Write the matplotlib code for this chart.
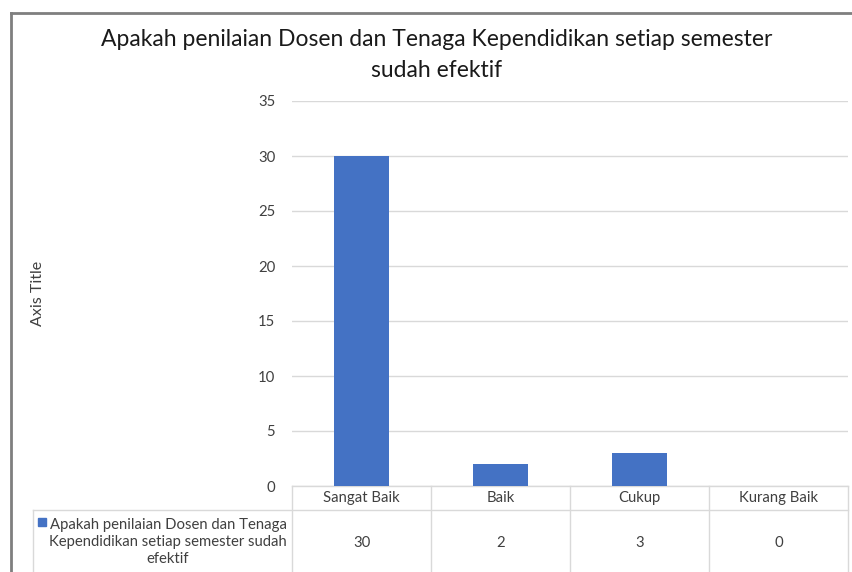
import numpy as np
import matplotlib.pyplot as plt
from matplotlib.lines import Line2D
import matplotlib.transforms as mtransforms

categories = ["Sangat Baik", "Baik", "Cukup", "Kurang Baik"]
values = [30, 2, 3, 0]
series_name = "Apakah penilaian Dosen dan Tenaga\nKependidikan setiap semester sudah\nefektif"
title = "Apakah penilaian Dosen dan Tenaga Kependidikan setiap semester\nsudah efektif"
y_ticks = [0, 5, 10, 15, 20, 25, 30, 35]

bar_color = "#4472C4"
grid_color = "#D9D9D9"
text_color = "#404040"
fs = 10.7

plt.rcParams['font.family'] = ['Lato', 'DejaVu Sans']

W, H = 853, 572
fig = plt.figure(figsize=(W / 100, H / 100), dpi=100)

# plot area in pixels: x 292..848, y 101..486
ax = fig.add_axes([292 / W, 1 - 486 / H, 556 / W, 385 / H])
x = np.arange(len(categories))
ax.bar(x, values, width=0.4, color=bar_color, zorder=3)
ax.set_xlim(-0.5, len(categories) - 0.5)
ax.set_ylim(0, 35)
ax.set_yticks(y_ticks)
ax.set_xticks([])
ax.tick_params(axis='y', length=0, pad=12, labelsize=fs, labelcolor=text_color)
ax.grid(axis='y', color=grid_color, linewidth=1, zorder=0)
for s in ax.spines.values():
    s.set_visible(False)

fig.text(38 / W, 1 - 293 / H, "Axis Title", rotation=90, ha='center', va='center',
         fontsize=11.5, color=text_color)
fig.text(437 / W, 1 - 55 / H, title, ha='center', va='center', fontsize=16.5,
         color="#1a1a1a", linespacing=1.6)

# data table under the axis
trans = mtransforms.blended_transform_factory(ax.transData, ax.transAxes)
row1 = (486 - 510) / 385
bottom = (486 - 580) / 385
tbl = dict(color=grid_color, linewidth=1, clip_on=False)
for b in np.arange(len(categories) + 1) - 0.5:
    ax.plot([b, b], [0, bottom], transform=trans, **tbl)
ax.plot([-0.5, len(categories) - 0.5], [0, 0], transform=trans, **tbl)
ax.add_line(Line2D([33 / W, 848 / W], [1 - 510 / H, 1 - 510 / H],
                   transform=fig.transFigure, **tbl))
ax.add_line(Line2D([33 / W, 33 / W], [1 - 510 / H, 0],
                   transform=fig.transFigure, **tbl))

row2_mid = (486 - 543) / 385
for i, (c, v) in enumerate(zip(categories, values)):
    ax.text(i, row1 / 2, c, transform=trans, ha='center', va='center',
            fontsize=fs, color=text_color)
    ax.text(i, row2_mid, str(v), transform=trans, ha='center', va='center',
            fontsize=fs, color=text_color)

fig.text(287 / W, 1 - 542 / H, series_name, ha='right', va='center',
         multialignment='center', fontsize=fs, color=text_color, linespacing=1.25)
fig.patches.append(plt.Rectangle((38 / W, 1 - 526 / H), 8 / W, 8 / H,
                                 color=bar_color, transform=fig.transFigure))

# outer chart frame
frame = dict(color="#7F7F7F", linewidth=2, transform=fig.transFigure)
fig.add_artist(Line2D([11 / W, 1], [1 - 13 / H, 1 - 13 / H], **frame))
fig.add_artist(Line2D([11 / W, 11 / W], [1 - 13 / H, 0], **frame))

fig.savefig("out.png", dpi=100)
